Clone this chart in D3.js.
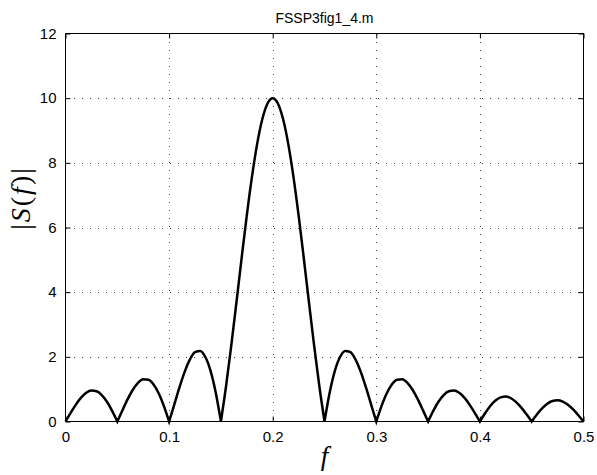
<!DOCTYPE html>
<html><head><meta charset="utf-8">
<script src="https://cdn.jsdelivr.net/npm/d3@7/dist/d3.min.js"></script>
<style>body{margin:0;background:#fff}svg{display:block}</style>
</head><body>
<svg id="chart" width="597" height="475"></svg>
<script>
// ---- data ----
const chartTitle = "FSSP3fig1_4.m";
const xTickValues = [0, 0.1, 0.2, 0.3, 0.4, 0.5];
const yTickValues = [0, 2, 4, 6, 8, 10, 12];
const xDomain = [0, 0.5];
const yDomain = [0, 12];
// sample frequencies f = 0, 0.005, ..., 0.5
const freqStart = 0, freqStep = 0.005;
// |S(f)| read at each sample frequency
const magnitude = [
  0, 0.269, 0.523, 0.737, 0.887, 0.957, 0.934, 0.816, 0.610, 0.330,
  0, 0.351, 0.690, 0.983, 1.197, 1.307, 1.292, 1.144, 0.868, 0.477,
  0, 0.525, 1.053, 1.533, 1.912, 2.142, 2.180, 1.995, 1.568, 0.899,
  0, 1.097, 2.345, 3.686, 5.053, 6.373, 7.573, 8.587, 9.356, 9.837,
  10, 9.837, 9.356, 8.587, 7.573, 6.373, 5.053, 3.686, 2.345, 1.097,
  0, 0.899, 1.568, 1.995, 2.180, 2.142, 1.912, 1.533, 1.053, 0.525,
  0, 0.477, 0.868, 1.144, 1.292, 1.307, 1.197, 0.983, 0.690, 0.351,
  0, 0.330, 0.610, 0.816, 0.934, 0.957, 0.887, 0.737, 0.523, 0.269,
  0, 0.257, 0.480, 0.647, 0.746, 0.770, 0.719, 0.601, 0.429, 0.222,
  0, 0.215, 0.403, 0.547, 0.634, 0.658, 0.617, 0.518, 0.372, 0.193,
  0
];

// ---- layout ----
const L = 65.5, R = 583.5, T = 33.5, B = 421.5;
const svg = d3.select("#chart");
const x = d3.scaleLinear().domain(xDomain).range([L, R]);
const y = d3.scaleLinear().domain(yDomain).range([B, T]);
const tickFont = "'Liberation Sans', Arial, Helvetica, sans-serif";
const mathFont = "'Liberation Serif', 'Times New Roman', serif";

// grid
const grid = svg.append("g").attr("stroke", "#444").attr("stroke-width", 1)
  .attr("stroke-dasharray", "1,7").attr("shape-rendering", "crispEdges");
xTickValues.forEach(v => {
  if (v === xDomain[0] || v === xDomain[1]) return;
  grid.append("line").attr("x1", Math.round(x(v)) + 0.5).attr("x2", Math.round(x(v)) + 0.5)
    .attr("y1", T).attr("y2", B);
});
yTickValues.forEach(v => {
  if (v === yDomain[0] || v === yDomain[1]) return;
  grid.append("line").attr("y1", Math.round(y(v)) + 0.5).attr("y2", Math.round(y(v)) + 0.5)
    .attr("x1", L).attr("x2", R);
});

// axes with inward ticks
const ax = svg.append("g").attr("transform", `translate(0,${B})`)
  .call(d3.axisBottom(x).tickValues(xTickValues).tickSizeInner(-5).tickSizeOuter(0)
    .tickPadding(10).tickFormat(d3.format("")));
const axTop = svg.append("g").attr("transform", `translate(0,${T})`)
  .call(d3.axisTop(x).tickValues(xTickValues).tickSizeInner(-5).tickSizeOuter(0).tickFormat(""));
const ay = svg.append("g").attr("transform", `translate(${L},0)`)
  .call(d3.axisLeft(y).tickValues(yTickValues).tickSizeInner(-5).tickSizeOuter(0)
    .tickPadding(9).tickFormat(d3.format("")));
const ayR = svg.append("g").attr("transform", `translate(${R},0)`)
  .call(d3.axisRight(y).tickValues(yTickValues).tickSizeInner(-5).tickSizeOuter(0).tickFormat(""));
[ax, axTop, ay, ayR].forEach(g => {
  g.selectAll(".domain").remove();
  g.selectAll(".tick line").attr("stroke", "#000");
  g.selectAll("text").attr("font-family", tickFont).attr("font-size", 15).attr("fill", "#000");
});
ax.selectAll("text").attr("dy", "0.71em");

// box
svg.append("rect").attr("x", L).attr("y", T).attr("width", R - L).attr("height", B - T)
  .attr("fill", "none").attr("stroke", "#000").attr("stroke-width", 1)
  .attr("shape-rendering", "crispEdges");

// curve: split into lobes at zeros, each lobe smooth, joined into one path
const pts = magnitude.map((m, i) => [freqStart + i * freqStep, m]);
const segs = [];
let cur = [pts[0]];
for (let i = 1; i < pts.length; i++) {
  cur.push(pts[i]);
  if (pts[i][1] === 0 && i < pts.length - 1) { segs.push(cur); cur = [pts[i]]; }
}
if (cur.length > 1) segs.push(cur);
const line = d3.line().x(d => x(d[0])).y(d => y(d[1])).curve(d3.curveMonotoneX);
let dStr = "";
segs.forEach((s, k) => {
  let p = line(s);
  if (k > 0) p = p.replace(/^M[^CL]*/, "");
  dStr += p;
});
svg.append("path").attr("d", dStr).attr("fill", "none").attr("stroke", "#000")
  .attr("stroke-width", 2.5).attr("stroke-linejoin", "miter");

// title
svg.append("text").attr("x", (L + R) / 2).attr("y", 23).attr("text-anchor", "middle")
  .attr("font-family", tickFont).attr("font-size", 14).text(chartTitle);

// x label
svg.append("text").attr("x", (L + R) / 2).attr("y", 465).attr("text-anchor", "middle")
  .attr("font-family", mathFont).attr("font-size", 27)
  .attr("font-style", "italic").text("f");

// y label |S(f)|
const yl = svg.append("text").attr("transform", "translate(30,198) rotate(-90)")
  .attr("text-anchor", "middle").attr("letter-spacing", 2)
  .attr("font-family", mathFont).attr("font-size", 28);
[["|", "normal"], ["S", "italic"], ["(", "normal"], ["f", "italic"], [")", "normal"], ["|", "normal"]]
  .forEach(([t, st]) => yl.append("tspan").attr("font-style", st).text(t));
</script>
</body></html>
